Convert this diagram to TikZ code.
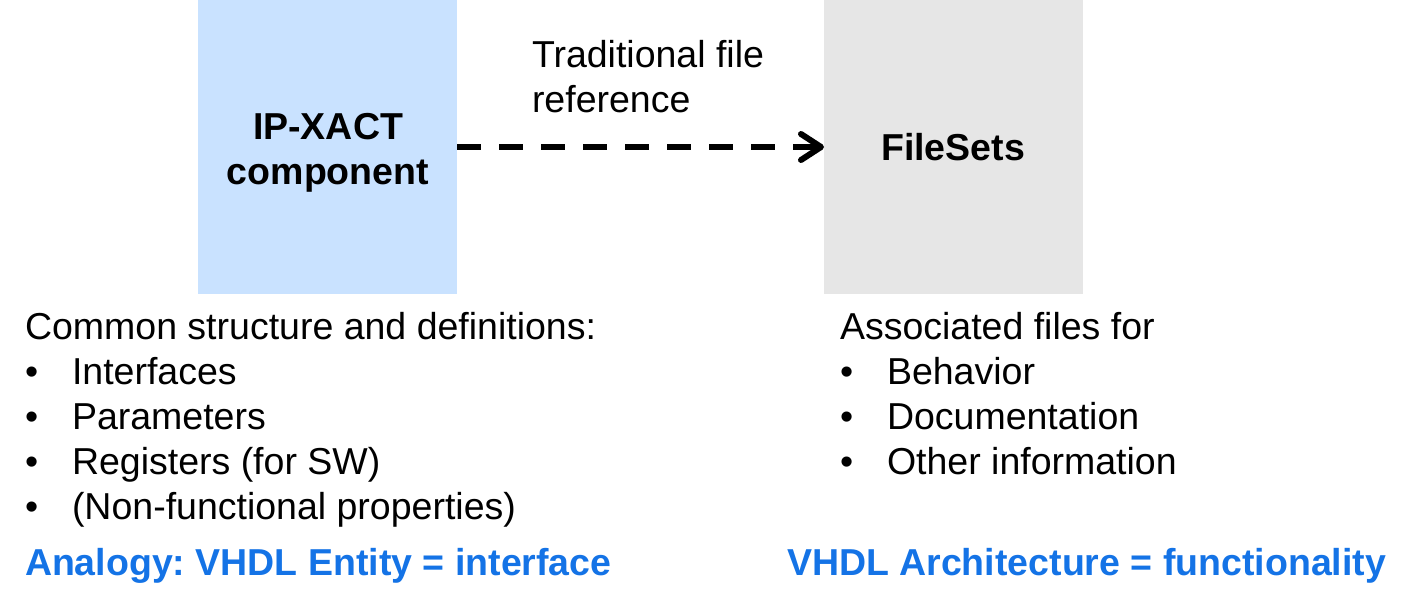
\documentclass[tikz,border=0pt]{standalone}
\usepackage{fontspec}
\setmainfont{Liberation Sans}
\usetikzlibrary{arrows.meta}
\frenchspacing
\definecolor{compblue}{RGB}{201,226,255}
\definecolor{filegray}{RGB}{230,230,230}
\definecolor{analogyblue}{RGB}{20,115,230}
\tikzset{
  every node/.style={inner sep=0pt, outer sep=0pt},
  box/.style={minimum width=259pt, minimum height=294pt},
  title/.style={font=\fontsize{37.5}{45}\selectfont\bfseries, align=center},
  body/.style={font=\fontsize{37.5}{45}\selectfont, anchor=base west},
  analogy/.style={font=\fontsize{37.5}{45}\selectfont\bfseries, text=analogyblue, anchor=base west},
  ref/.style={line width=6pt, dash pattern=on 24pt off 18pt,
    -{Straight Barb[length=20pt, width=26pt, line width=6pt, line cap=round, line join=round]}}
}
\begin{document}
\begin{tikzpicture}[x=1pt, y=-1pt]
  \useasboundingbox (0,0) rectangle (1420,607);

  % the two blocks
  \node[box, fill=compblue, anchor=north west] (comp) at (198,0) {};
  \node[box, fill=filegray, anchor=north west] (files) at (824,0) {};
  \node[title] (compname) at (328,153) {IP-XACT\\component};
  \node[title] (filesname) at (953,147) {FileSets};

  % reference arrow between the blocks
  \coordinate (refstart) at (comp.east |- 0,147);
  \coordinate (refend) at (files.west |- 0,147);
  \draw[ref] (refstart) -- (refend);
  \node[body] (trad1) at (532,68) {Traditional file};
  \node[body] (trad2) at (532,113) {reference};

  % component contents
  \node[body] (c0) at (25,339) {Common structure and definitions:};
  \node[body] (cb1) at (25,384) {\textbullet};
  \node[body] (c1) at (72,384) {Interfaces};
  \node[body] (cb2) at (25,429) {\textbullet};
  \node[body] (c2) at (72,429) {Parameters};
  \node[body] (cb3) at (25,474) {\textbullet};
  \node[body] (c3) at (72,474) {Registers (for SW)};
  \node[body] (cb4) at (25,519) {\textbullet};
  \node[body] (c4) at (72,519) {(Non-functional properties)};
  \node[analogy] (entity) at (25,575) {Analogy: VHDL Entity = interface};

  % file set contents
  \node[body] (f0) at (840,339) {Associated files for};
  \node[body] (fb1) at (840,384) {\textbullet};
  \node[body] (f1) at (887,384) {Behavior};
  \node[body] (fb2) at (840,429) {\textbullet};
  \node[body] (f2) at (887,429) {Documentation};
  \node[body] (fb3) at (840,474) {\textbullet};
  \node[body] (f3) at (887,474) {Other information};
  \node[analogy] (arch) at (787,575) {VHDL Architecture = functionality};
\end{tikzpicture}
\end{document}
